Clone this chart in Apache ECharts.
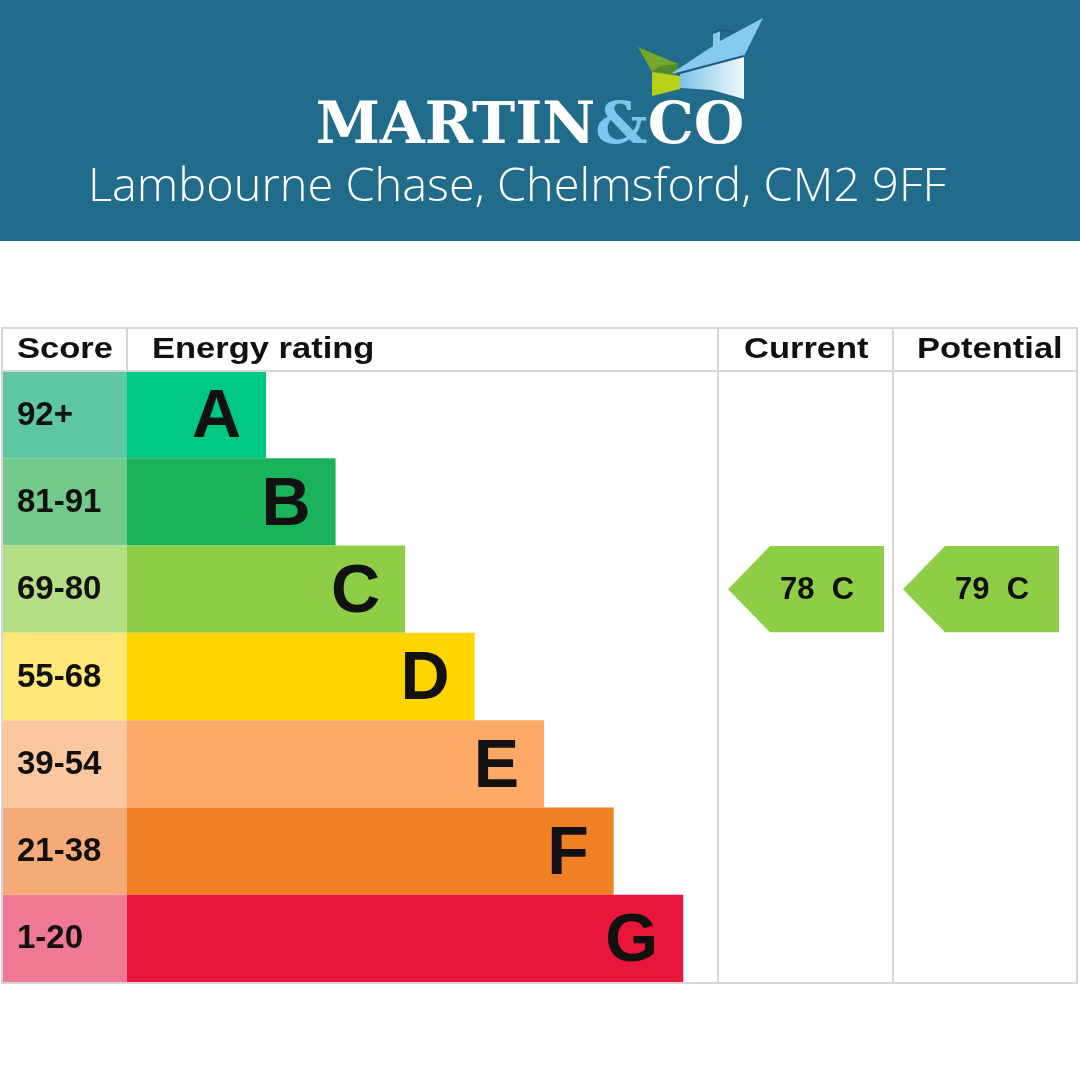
<!DOCTYPE html>
<html>
<head>
<meta charset="utf-8">
<script src="https://cdn.jsdelivr.net/npm/echarts@6/dist/echarts.min.js"></script>
<style>
  html, body { margin: 0; padding: 0; background: #fff; }
  #chart { width: 1080px; height: 1080px; }
</style>
</head>
<body>
<div id="chart"></div>
<script>
// EPC bands, top to bottom
const ratings = ["A", "B", "C", "D", "E", "F", "G"];
const scoreRanges = ["92+", "81-91", "69-80", "55-68", "39-54", "21-38", "1-20"];
// relative bar length of each band
const barLength = [2, 3, 4, 5, 6, 7, 8];
const bandColors = ["#00c882", "#1ab25a", "#8dce46", "#ffd500", "#fcaa65", "#ef8124", "#e9153b"];
const scoreColors = ["#5ec6a0", "#73c98c", "#b3de84", "#fee777", "#fbc79e", "#f4ab78", "#ef7892"];
// current / potential ratings
const currentScore = 78, currentBand = "C";
const potentialScore = 79, potentialBand = "C";
const arrowColor = "#8dce46";

const chart = echarts.init(document.getElementById("chart"));

const FONT = '"Liberation Sans", Arial, sans-serif';
const LINE = "#d6d6d6";

// arrow pointing left, sitting in the row of its band
function arrowItem(params, api) {
  const cs = params.coordSys;
  const v = api.value(1);
  const letter = typeof v === "number" ? ratings[v] : v;
  const yc = api.coord([0, v])[1];
  const h = api.size([0, 1])[1] - 1;
  const x0 = cs.x + 10, x1 = x0 + 156, tip = 42;
  return {
    type: "group",
    children: [
      {
        type: "polygon",
        shape: { points: [[x0, yc], [x0 + tip, yc - h / 2], [x1, yc - h / 2], [x1, yc + h / 2], [x0 + tip, yc + h / 2]] },
        style: { fill: arrowColor }
      },
      {
        type: "text",
        style: {
          text: api.value(0) + "  " + letter,
          x: x0 + 89, y: yc + 1,
          align: "center", verticalAlign: "middle",
          font: "bold 31px " + FONT, fill: "#111"
        }
      }
    ]
  };
}

function catY(i) {
  return { gridIndex: i, type: "category", data: ratings, inverse: true, show: false };
}

const hdrText = (x, t) => ({
  type: "text", x: x, y: 350, scaleX: 1.15,
  style: { text: t, x: 0, y: 0, verticalAlign: "middle", font: "bold 30px " + FONT, fill: "#111" }
});

const option = {
  backgroundColor: "#fff",
  animation: false,
  grid: [
    { left: 2, top: 371, width: 125, height: 611 },
    { left: 127, top: 371, width: 591, height: 611 },
    { left: 718, top: 371, width: 175, height: 611 },
    { left: 893, top: 371, width: 184, height: 611 }
  ],
  xAxis: [
    { gridIndex: 0, type: "value", min: 0, max: 1, show: false },
    { gridIndex: 1, type: "value", min: 0, max: 8.5, show: false },
    { gridIndex: 2, type: "value", min: 0, max: 100, show: false },
    { gridIndex: 3, type: "value", min: 0, max: 100, show: false }
  ],
  yAxis: [catY(0), catY(1), catY(2), catY(3)],
  series: [
    {
      type: "bar", xAxisIndex: 0, yAxisIndex: 0, barCategoryGap: 0,
      data: scoreRanges.map((s, i) => ({ value: 1, name: s, itemStyle: { color: scoreColors[i] } })),
      label: {
        show: true, position: "insideLeft", distance: 15, offset: [0, 1],
        formatter: p => scoreRanges[p.dataIndex],
        fontFamily: FONT, fontWeight: "bold", fontSize: 33, color: "#111"
      }
    },
    {
      type: "bar", xAxisIndex: 1, yAxisIndex: 1, barCategoryGap: 0,
      data: barLength.map((v, i) => ({ value: v, itemStyle: { color: bandColors[i] } })),
      label: {
        show: true, position: "insideRight", distance: 25, offset: [0, 4],
        formatter: p => ratings[p.dataIndex],
        fontFamily: FONT, fontWeight: "bold", fontSize: 68, color: "#111"
      }
    },
    {
      type: "custom", xAxisIndex: 2, yAxisIndex: 2,
      data: [[currentScore, currentBand]], renderItem: arrowItem
    },
    {
      type: "custom", xAxisIndex: 3, yAxisIndex: 3,
      data: [[potentialScore, potentialBand]], renderItem: arrowItem
    }
  ],
  graphic: [
    // header band
    { type: "rect", shape: { x: 0, y: 0, width: 1080, height: 241 }, style: { fill: "#206c8a" }, z: -1 },
    // logo house
    { type: "polygon", shape: { points: [[638, 47], [678, 64], [678, 75], [652, 72]] }, style: { fill: "#78a62a" } },
    { type: "polygon", shape: { points: [[660, 66], [678, 64], [678, 75], [652, 72]] }, style: { fill: "#4f8a2c" } },
    { type: "polygon", shape: { points: [[652, 72], [680, 76], [680, 89], [652, 96]] }, style: { fill: "#b8d01a" } },
    { type: "polygon", shape: { points: [[672, 73], [713, 46], [713, 33], [720, 30], [720, 41], [763, 18], [744, 56], [680, 74]] }, style: { fill: "#86cbee" } },
    {
      type: "polygon", shape: { points: [[680, 74], [744, 56], [744, 99], [712, 90], [680, 88]] },
      style: { fill: new echarts.graphic.LinearGradient(0, 0, 1, 0, [{ offset: 0, color: "#7cc3ea" }, { offset: 1, color: "#f2f9fd" }]) }
    },
    { type: "polyline", shape: { points: [[676, 74], [744, 56]] }, style: { stroke: "#1c5a86", lineWidth: 2 } },
    { type: "polyline", shape: { points: [[713, 33], [720, 30], [735, 32]] }, style: { stroke: "#1c5a86", lineWidth: 2 } },
    {
      type: "text", x: 530, y: 128,
      style: {
        text: "{w|MARTIN}{b|&}{w|CO}", align: "center", verticalAlign: "middle",
        rich: {
          w: { font: 'bold 58px "DejaVu Serif", serif', fill: "#fff" },
          b: { font: 'bold 58px "DejaVu Serif", serif', fill: "#7cc6ec" }
        }
      }
    },
    {
      type: "text", x: 517, y: 188, scaleX: 1.02,
      style: {
        text: "Lambourne Chase, Chelmsford, CM2 9FF", x: 0, y: 0, align: "center", verticalAlign: "middle",
        font: '300 46px "Open Sans", sans-serif', fill: "#fff"
      }
    },
    // table frame
    { type: "rect", shape: { x: 2, y: 328, width: 1075, height: 655 }, style: { fill: null, stroke: LINE, lineWidth: 2 }, z: 10 },
    { type: "line", shape: { x1: 2, y1: 371, x2: 1077, y2: 371 }, style: { stroke: LINE, lineWidth: 2 }, z: 10 },
    { type: "line", shape: { x1: 127, y1: 328, x2: 127, y2: 371 }, style: { stroke: LINE, lineWidth: 2 }, z: 10 },
    { type: "line", shape: { x1: 718, y1: 328, x2: 718, y2: 983 }, style: { stroke: LINE, lineWidth: 2 }, z: 10 },
    { type: "line", shape: { x1: 893, y1: 328, x2: 893, y2: 983 }, style: { stroke: LINE, lineWidth: 2 }, z: 10 },
    hdrText(17, "Score"),
    hdrText(152, "Energy rating"),
    hdrText(744, "Current"),
    hdrText(917, "Potential")
  ]
};

chart.setOption(option);
</script>
</body>
</html>
